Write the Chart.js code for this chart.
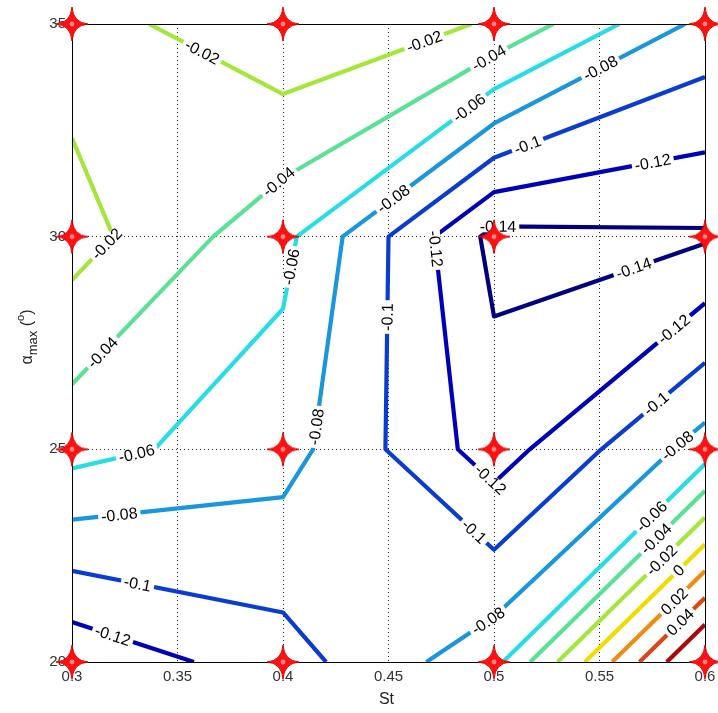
<!DOCTYPE html>
<html>
<head>
<meta charset="utf-8">
<script src="https://cdn.jsdelivr.net/npm/chart.js@4/dist/chart.umd.min.js"></script>
<style>
  html, body { margin: 0; padding: 0; background: #fff; }
  #wrap { width: 718px; height: 713px; position: relative; }
</style>
</head>
<body>
<div id="wrap"><canvas id="contourChart"></canvas></div>
<script>
// grid of the measured field: St across, alpha_max down the rows
const stValues = [0.3, 0.4, 0.5, 0.6];
const alphaValues = [20, 25, 30, 35];
const zAt20 = [-0.1356, -0.1086, -0.0665, 0.088];
const zAt25 = [-0.0525, -0.0717, -0.130, -0.071];
const zAt30 = [-0.0117, -0.054, -0.146, -0.1423];
const zAt35 = [-0.0296, -0.0033, -0.022, -0.086];

const levels = [-0.14, -0.12, -0.1, -0.08, -0.06, -0.04, -0.02, 0, 0.02, 0.04, 0.06];
const levelColors = ["#00007e", "#0000b8", "#0a3cd2", "#1996dc", "#28dce6", "#5ae196",
                     "#a5e63c", "#f0dc00", "#f08c14", "#dc4614", "#aa0a0a"];

const xTicks = [0.3, 0.35, 0.4, 0.45, 0.5, 0.55, 0.6];
const yTicks = [20, 25, 30, 35];

// inline contour labels (level, St, alpha)
const labelLevel = [-0.02, -0.02, -0.02, -0.04, -0.04, -0.04, -0.06, -0.06, -0.06, -0.06,
  -0.08, -0.08, -0.08, -0.08, -0.08, -0.08, -0.1, -0.1, -0.1, -0.1, -0.1,
  -0.12, -0.12, -0.12, -0.12, -0.12, -0.14, -0.14, -0.04, -0.02, 0, 0.02, 0.04];
const labelSt = [0.3604, 0.467, 0.3146, 0.3981, 0.4976, 0.3146, 0.4882, 0.4038, 0.3307, 0.5755,
  0.5514, 0.4528, 0.417, 0.3226, 0.4976, 0.5858, 0.5165, 0.4505, 0.5774, 0.3307, 0.4882,
  0.5755, 0.475, 0.5868, 0.4972, 0.3189, 0.5019, 0.566, 0.5774, 0.5802, 0.5882, 0.5858, 0.5896];
const labelAlpha = [34.22, 34.58, 29.92, 31.28, 34.2, 27.27, 33.03, 29.29, 24.89, 23.38,
  33.87, 30.86, 25.52, 23.38, 20.94, 25.15, 32.08, 28.11, 26.04, 21.74, 22.94,
  31.68, 29.73, 27.73, 24.23, 20.56, 30.16, 29.29, 22.87, 22.35, 22.12, 21.41, 20.87];

const zGrid = [zAt20, zAt25, zAt30, zAt35];

// marching squares, linear interpolation along cell edges
function contourSegments(level) {
  const segs = [];
  const cross = (za, zb, pa, pb) => {
    if ((za - level) * (zb - level) >= 0) return null;
    const t = (level - za) / (zb - za);
    return { x: pa.x + t * (pb.x - pa.x), y: pa.y + t * (pb.y - pa.y) };
  };
  for (let j = 0; j < alphaValues.length - 1; j++) {
    for (let i = 0; i < stValues.length - 1; i++) {
      const x0 = stValues[i], x1 = stValues[i + 1];
      const y0 = alphaValues[j], y1 = alphaValues[j + 1];
      const bl = zGrid[j][i], br = zGrid[j][i + 1];
      const tl = zGrid[j + 1][i], tr = zGrid[j + 1][i + 1];
      const B = cross(bl, br, { x: x0, y: y0 }, { x: x1, y: y0 });
      const R = cross(br, tr, { x: x1, y: y0 }, { x: x1, y: y1 });
      const T = cross(tl, tr, { x: x0, y: y1 }, { x: x1, y: y1 });
      const L = cross(bl, tl, { x: x0, y: y0 }, { x: x0, y: y1 });
      const pts = [B, R, T, L].filter(Boolean);
      if (pts.length === 2) {
        segs.push(pts);
      } else if (pts.length === 4) {
        const centreAbove = (bl + br + tl + tr) / 4 > level;
        if ((bl > level) !== centreAbove) {
          segs.push([L, B]);
          segs.push([R, T]);
        } else {
          segs.push([B, R]);
          segs.push([T, L]);
        }
      }
    }
  }
  return segs;
}

// join segments that share an end into polylines
function chain(segs) {
  const key = p => p.x.toFixed(9) + "," + p.y.toFixed(9);
  const left = segs.slice();
  const lines = [];
  while (left.length) {
    const line = left.shift().slice();
    let grown = true;
    while (grown) {
      grown = false;
      for (let k = 0; k < left.length; k++) {
        const [a, b] = left[k];
        const head = key(line[0]), tail = key(line[line.length - 1]);
        if (key(a) === tail) line.push(b);
        else if (key(b) === tail) line.push(a);
        else if (key(b) === head) line.unshift(a);
        else if (key(a) === head) line.unshift(b);
        else continue;
        left.splice(k, 1);
        grown = true;
        break;
      }
    }
    lines.push(line);
  }
  return lines;
}

const contourLines = levels.map(lv => chain(contourSegments(lv)));

// four-point star marker
function makeStar() {
  const c = document.createElement("canvas");
  c.width = 34;
  c.height = 36;
  const g = c.getContext("2d");
  const cx = 17, cy = 18, rx = 16, ry = 17, k = 1.2;
  g.beginPath();
  g.moveTo(cx, cy - ry);
  g.quadraticCurveTo(cx + k, cy - k, cx + rx, cy);
  g.quadraticCurveTo(cx + k, cy + k, cx, cy + ry);
  g.quadraticCurveTo(cx - k, cy + k, cx - rx, cy);
  g.quadraticCurveTo(cx - k, cy - k, cx, cy - ry);
  g.closePath();
  g.fillStyle = "#ff1010";
  g.fill();
  g.lineWidth = 1;
  g.strokeStyle = "#e00000";
  g.stroke();
  g.beginPath();
  g.arc(cx, cy, 2.4, 0, Math.PI * 2);
  g.fillStyle = "#e48c8c";
  g.fill();
  return c;
}

const gridPoints = [];
alphaValues.forEach(a => stValues.forEach(s => gridPoints.push({ x: s, y: a })));

const datasets = [{
  data: gridPoints,
  pointStyle: makeStar(),
  pointRadius: 12,
  showLine: false,
  clip: false,
  order: 0
}];
contourLines.forEach((lines, li) => {
  lines.forEach(line => {
    datasets.push({
      data: line,
      showLine: true,
      borderColor: levelColors[li],
      borderWidth: 4.2,
      borderJoinStyle: "round",
      pointRadius: 0,
      tension: 0,
      clip: 0,
      order: 1
    });
  });
});

const fontFamily = "'Liberation Sans', Arial, sans-serif";

// frame + inline labels, drawn just before the star markers
const frameAndLabels = {
  id: "frameAndLabels",
  beforeDatasetDraw(chart, args) {
    if (args.index !== 0) return;
    const { ctx, chartArea } = chart;
    const xs = chart.scales.x, ys = chart.scales.y;
    ctx.save();
    ctx.strokeStyle = "#000";
    ctx.lineWidth = 1;
    ctx.strokeRect(Math.round(chartArea.left) + 0.5, Math.round(chartArea.top) + 0.5,
      Math.round(chartArea.right - chartArea.left), Math.round(chartArea.bottom - chartArea.top));

    ctx.font = "16px " + fontFamily;
    ctx.textAlign = "center";
    ctx.textBaseline = "middle";
    labelLevel.forEach((lv, n) => {
      const li = levels.indexOf(lv);
      const px = xs.getPixelForValue(labelSt[n]);
      const py = ys.getPixelForValue(labelAlpha[n]);
      let best = null;
      contourLines[li].forEach(line => {
        for (let m = 0; m < line.length - 1; m++) {
          const ax = xs.getPixelForValue(line[m].x), ay = ys.getPixelForValue(line[m].y);
          const bx = xs.getPixelForValue(line[m + 1].x), by = ys.getPixelForValue(line[m + 1].y);
          const dx = bx - ax, dy = by - ay;
          let t = ((px - ax) * dx + (py - ay) * dy) / (dx * dx + dy * dy);
          t = Math.max(0, Math.min(1, t));
          const qx = ax + t * dx, qy = ay + t * dy;
          const d = Math.hypot(px - qx, py - qy);
          if (!best || d < best.d) best = { d, qx, qy, ang: Math.atan2(dy, dx) };
        }
      });
      if (!best) return;
      let ang = best.ang;
      if (ang > Math.PI / 2) ang -= Math.PI;
      if (ang <= -Math.PI / 2) ang += Math.PI;
      const text = String(lv);
      const w = ctx.measureText(text).width;
      ctx.save();
      ctx.translate(best.qx, best.qy);
      ctx.rotate(ang);
      ctx.fillStyle = "#fff";
      ctx.fillRect(-w / 2 - 3, -6, w + 6, 12);
      ctx.fillStyle = "#000";
      ctx.fillText(text, 0, 1);
      ctx.restore();
    });
    ctx.restore();
  }
};

const axisTitles = {
  id: "axisTitles",
  afterDraw(chart) {
    const { ctx, chartArea } = chart;
    ctx.save();
    ctx.fillStyle = "#222";
    ctx.textBaseline = "alphabetic";
    ctx.textAlign = "center";
    ctx.font = "16px " + fontFamily;
    ctx.fillText("St", (chartArea.left + chartArea.right) / 2 - 2, 704);

    // alpha_max (°) rotated
    const parts = [
      { t: "\u03b1", size: 16, dy: 0 },
      { t: "max", size: 13, dy: 5 },
      { t: " (", size: 16, dy: 0 },
      { t: "o", size: 11, dy: -8 },
      { t: ")", size: 16, dy: 0 }
    ];
    let total = 0;
    parts.forEach(p => { ctx.font = p.size + "px " + fontFamily; p.w = ctx.measureText(p.t).width; total += p.w; });
    ctx.translate(32, (chartArea.top + chartArea.bottom) / 2 - 6);
    ctx.rotate(-Math.PI / 2);
    ctx.textAlign = "left";
    let x = -total / 2;
    parts.forEach(p => {
      ctx.font = p.size + "px " + fontFamily;
      ctx.fillText(p.t, x, p.dy);
      x += p.w;
    });
    ctx.restore();
  }
};

const tickText = v => String(Math.round(v * 100) / 100);

new Chart(document.getElementById("contourChart"), {
  type: "scatter",
  data: { datasets },
  plugins: [frameAndLabels, axisTitles],
  options: {
    responsive: true,
    maintainAspectRatio: false,
    animation: false,
    events: [],
    layout: { padding: { top: 24, right: 10, left: 0, bottom: 0 } },
    plugins: { legend: { display: false }, tooltip: { enabled: false } },
    scales: {
      x: {
        type: "linear",
        min: xTicks[0],
        max: xTicks[xTicks.length - 1],
        afterBuildTicks: scale => { scale.ticks = xTicks.map(v => ({ value: v })); },
        ticks: { callback: tickText, padding: 6, maxRotation: 0, autoSkip: false,
                 color: "#333", font: { family: fontFamily, size: 15 } },
        grid: { color: "#222", lineWidth: 1, drawTicks: false },
        border: { display: false, dash: [1, 3] },
        afterFit: scale => {
          scale.height = 51;
          scale.paddingLeft = 0; scale.paddingRight = 0;
        }
      },
      y: {
        type: "linear",
        min: yTicks[0],
        max: yTicks[yTicks.length - 1],
        afterBuildTicks: scale => { scale.ticks = yTicks.map(v => ({ value: v })); },
        ticks: { callback: tickText, padding: 6, autoSkip: false,
                 color: "#333", font: { family: fontFamily, size: 15 } },
        grid: { color: "#222", lineWidth: 1, drawTicks: false },
        border: { display: false, dash: [1, 3] },
        afterFit: scale => {
          scale.width = 72;
          scale.paddingTop = 0; scale.paddingBottom = 0;
        }
      }
    }
  }
});
</script>
</body>
</html>
